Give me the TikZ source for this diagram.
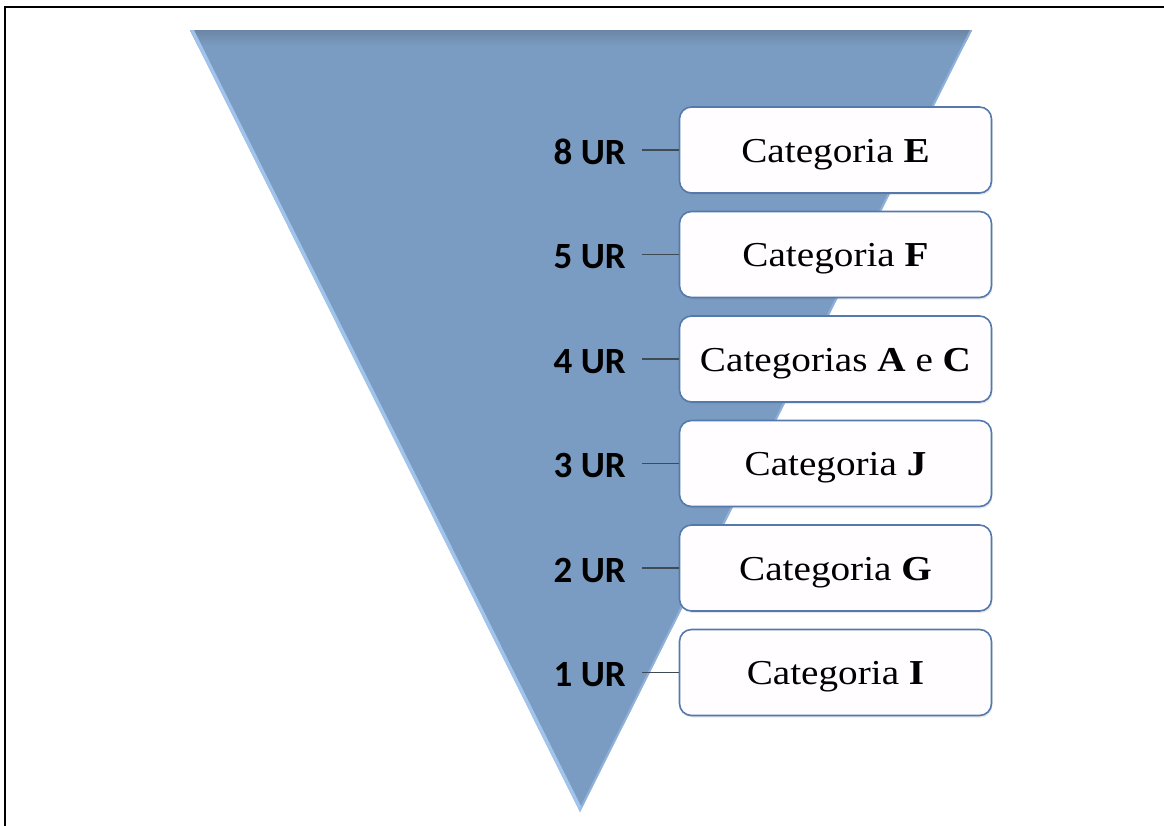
\documentclass[tikz,border=0pt]{standalone}
\usepackage{fontspec}
\setmainfont{Liberation Serif}
\newfontfamily\boxfont[FakeStretch=1.12]{Liberation Serif}
\newfontfamily\labfont{Carlito}
\usetikzlibrary{shadows}
\definecolor{trifill}{HTML}{7A9CC2}
\definecolor{tritop}{HTML}{6C84A3}
\definecolor{trilight}{HTML}{A6C9F1}
\definecolor{boxedge}{HTML}{5479AD}
\definecolor{boxfill}{HTML}{FFFDFF}
\definecolor{connc}{HTML}{3F4A55}
\tikzset{
  catbox/.style={draw=boxedge, line width=1.6pt, fill=boxfill, rounded corners=12pt,
    minimum width=312pt, minimum height=86pt, inner sep=0pt,
    text height=24pt, text depth=0pt, font=\boxfont\fontsize{35}{40}\selectfont,
    drop shadow={opacity=0.18, shadow xshift=1pt, shadow yshift=-2pt}},
  urlabel/.style={font=\labfont\bfseries\fontsize{37}{42}\selectfont, inner sep=0pt, anchor=base east},
  conn/.style={draw=connc, line width=1.3pt}
}
\begin{document}
\begin{tikzpicture}[x=1pt,y=-1pt]
\useasboundingbox (0,0) rectangle (1164,825);
% frame
\draw[line width=2.6pt] (5,826) -- (5,7) -- (1165,7);
% funnel triangle
\fill[trifill] (190,30) -- (972,30) -- (580,812) -- cycle;
\begin{scope}
  \clip (190,30) -- (972,30) -- (580,812) -- cycle;
  \shade[top color=tritop, bottom color=trifill] (180,29) rectangle (980,46);
  \draw[trilight, line width=7pt, opacity=0.9] (190,30) -- (580,812);
  \draw[trilight!70!trifill, line width=4pt, opacity=0.7] (972,30) -- (580,812);
\end{scope}
% boxes, labels, connectors
\foreach \i/\cy/\lab/\txt in {
  1/150/8 UR/Categoria \textbf{E},
  2/254.5/5 UR/Categoria \textbf{F},
  3/359/4 UR/Categorias \textbf{A} e \textbf{C},
  4/463.5/3 UR/Categoria \textbf{J},
  5/568/2 UR/Categoria \textbf{G},
  6/672.5/1 UR/Categoria \textbf{I}}{
  \node[catbox] (b\i) at (835.5,\cy) {\txt};
  \node[urlabel] (l\i) at (626,\cy+14) {\lab};
  \coordinate (c\i) at (642,\cy);
  \draw[conn] (c\i) -- (b\i.west);
}
\end{tikzpicture}
\end{document}
